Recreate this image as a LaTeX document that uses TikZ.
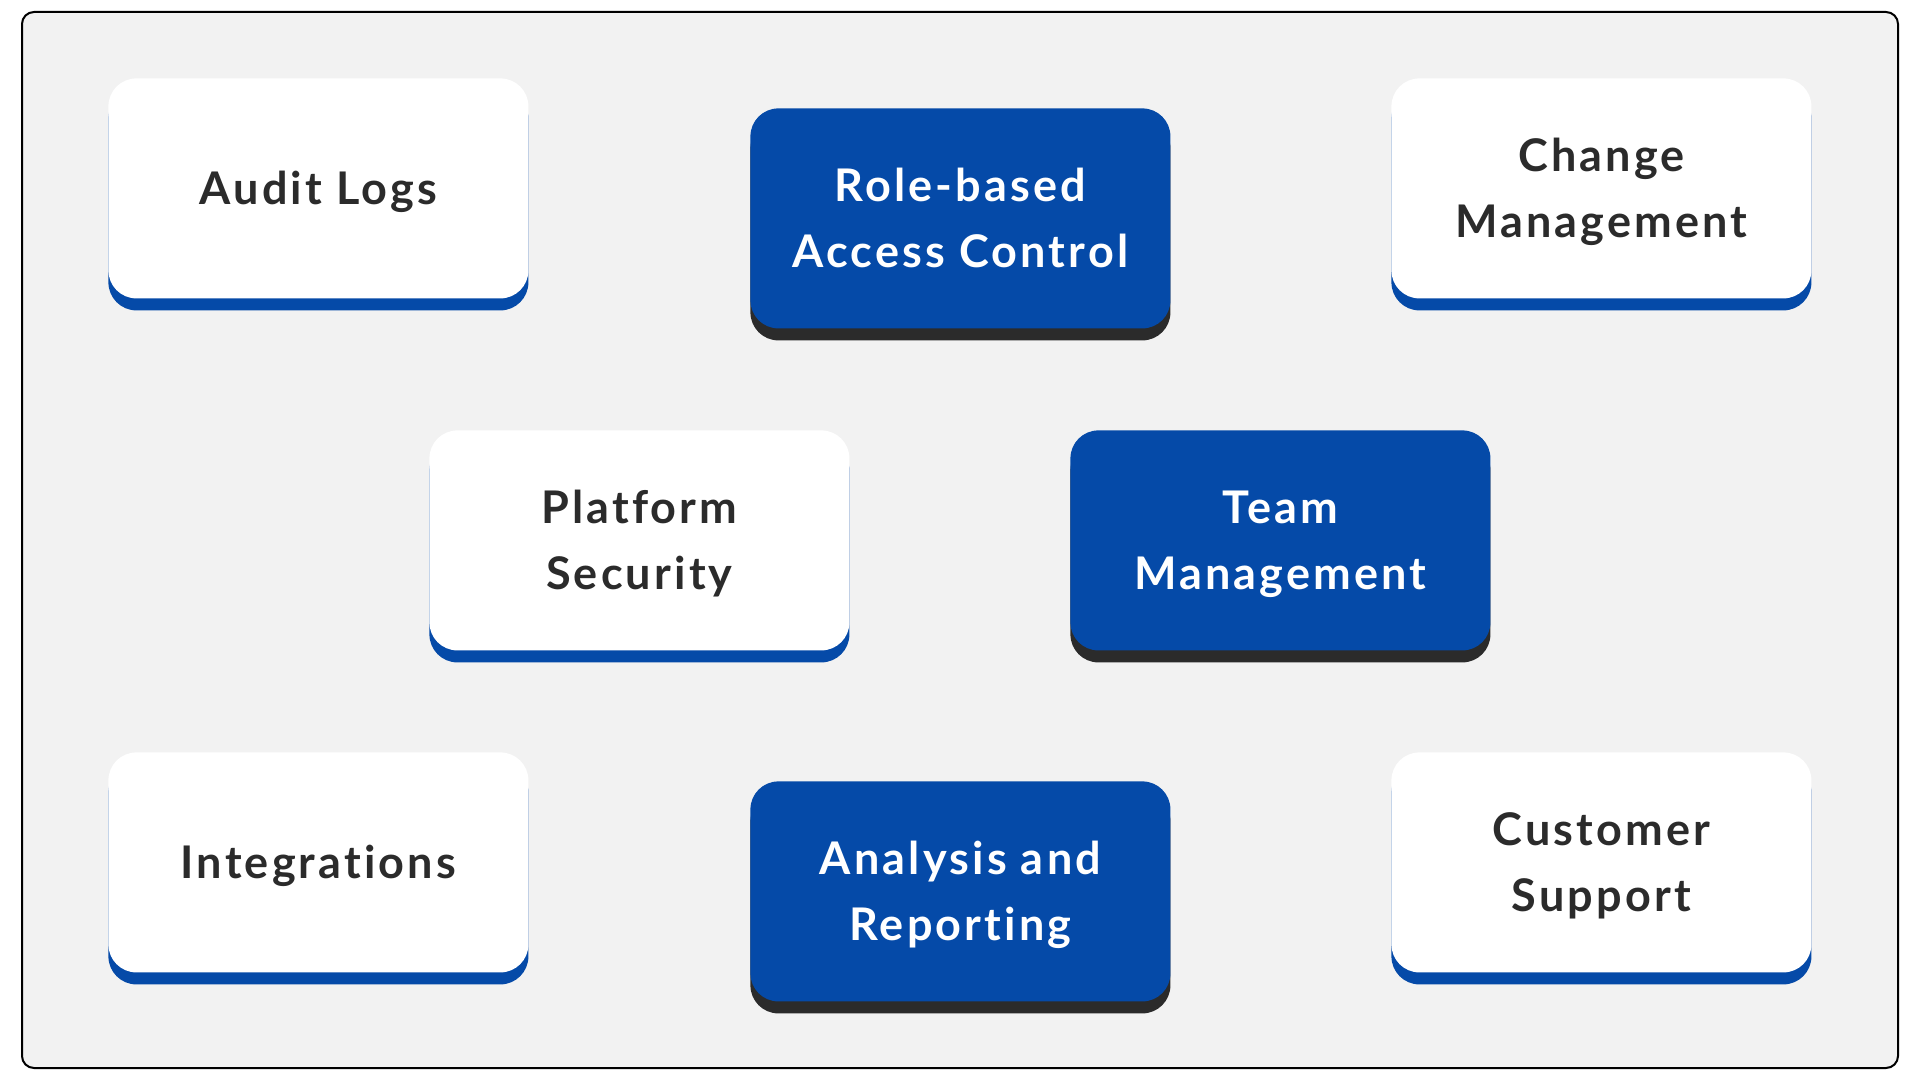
\documentclass[tikz,border=0pt]{standalone}
\usepackage{fontspec}
\newfontfamily\boxfont{Lato}[LetterSpace=7,Ligatures={NoCommon}]
\usetikzlibrary{shadows}
\definecolor{bgc}{HTML}{F2F2F2}
\definecolor{blu}{HTML}{054AA8}
\definecolor{drk}{HTML}{2B2B2B}
\newcommand\cardtwo[2]{\vtop{\baselineskip=33pt\halign{\hfil##\hfil\cr#1\cr#2\cr}}}
\tikzset{
  card/.style={rounded corners=14pt, minimum width=210pt, minimum height=110pt,
    inner sep=0pt, anchor=north west, text height=16.3pt,
    font=\boxfont\bfseries\fontsize{22.5pt}{33pt}\selectfont},
  oneline/.style={text depth=0pt},
  twoline/.style={text depth=33pt},
  lightcard/.style={card, fill=white, text=drk,
    general shadow={fill=blu, shadow yshift=-6pt}},
  darkcard/.style={card, fill=blu, text=white,
    general shadow={fill=drk, shadow yshift=-6pt}},
}
\begin{document}
\begin{tikzpicture}[x=0.5pt,y=-0.5pt]
\useasboundingbox (0,0) rectangle (1920,1080);
\draw[line width=1pt, rounded corners=6pt, fill=bgc, draw=black] (22,12) rectangle (1898,1068);
\node[lightcard, oneline] (audit) at (108,78) {Audit Logs};
\node[darkcard, twoline] (rbac) at (750,108) {\cardtwo{Role-based}{Access Control}};
\node[lightcard, twoline] (change) at (1391,78) {\cardtwo{Change}{Management}};
\node[lightcard, twoline] (platform) at (429,430) {\cardtwo{Platform}{Security}};
\node[darkcard, twoline] (team) at (1070,430) {\cardtwo{Team}{Management}};
\node[lightcard, oneline] (integ) at (108,752) {Integrations};
\node[darkcard, twoline] (analysis) at (750,781) {\cardtwo{Analysis and}{Reporting}};
\node[lightcard, twoline] (support) at (1391,752) {\cardtwo{Customer}{Support}};
\end{tikzpicture}
\end{document}
